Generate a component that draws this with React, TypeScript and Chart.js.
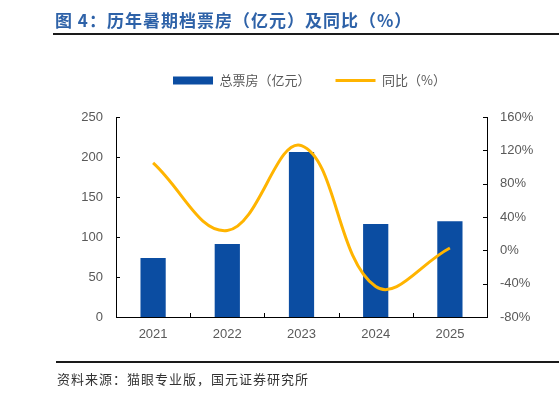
import React, { useEffect, useRef } from "react";
import { Chart, registerables } from "chart.js";

Chart.register(...registerables);

const categories = ["2021", "2022", "2023", "2024", "2025"];
const boxOffice = [73.8, 91.4, 206.2, 116.4, 119.7];
const yoyPct = [104.9, 23.8, 125.7, -43.5, 2.8];
const leftTicks = [0, 50, 100, 150, 200, 250];
const rightTicks = [-80, -40, 0, 40, 80, 120, 160];
const seriesNames = ["总票房（亿元）", "同比（%）"];
const titleText = "图 4：历年暑期档票房（亿元）及同比（%）";
const sourceText = "资料来源：猫眼专业版，国元证券研究所";

const BAR_COLOR = "#0B4DA2";
const LINE_COLOR = "#FFB400";
const TICK_COLOR = "#595959";

const innerTicks = {
  id: "innerTicks",
  afterLayout(chart: any) {
    const lg = chart.legend;
    if (lg) {
      lg.top -= 20;
      lg.bottom -= 20;
      lg.left += 30;
      lg.right += 30;
    }
  },
  afterDraw(chart: any) {
    const ctx = chart.ctx;
    const { left, right, bottom } = chart.chartArea;
    const y = chart.scales.y;
    const y1 = chart.scales.y1;
    const x = chart.scales.x;
    ctx.save();
    ctx.strokeStyle = "#000";
    ctx.lineWidth = 1;
    ctx.beginPath();
    leftTicks.forEach((v) => {
      const py = Math.round(y.getPixelForValue(v)) + 0.5;
      ctx.moveTo(left, py);
      ctx.lineTo(left + 4, py);
    });
    rightTicks.forEach((v) => {
      const py = Math.round(y1.getPixelForValue(v)) + 0.5;
      ctx.moveTo(right, py);
      ctx.lineTo(right - 4, py);
    });
    for (let i = 1; i < categories.length; i++) {
      const px = Math.round((x.getPixelForValue(i - 1) + x.getPixelForValue(i)) / 2) + 0.5;
      ctx.moveTo(px, bottom);
      ctx.lineTo(px, bottom - 4);
    }
    ctx.stroke();
    ctx.restore();
  },
};

function ChartBox() {
  const ref = useRef<HTMLCanvasElement | null>(null);
  useEffect(() => {
    if (!ref.current) return;
    const tickFont = { family: "'Liberation Sans', Arial, sans-serif", size: 13 };
    const chart = new Chart(ref.current, {
      type: "bar",
      data: {
        labels: categories,
        datasets: [
          {
            type: "bar",
            label: seriesNames[0],
            data: boxOffice,
            backgroundColor: BAR_COLOR,
            borderWidth: 0,
            yAxisID: "y",
            categoryPercentage: 1,
            barPercentage: 0.34,
            pointStyle: "rect",
            order: 2,
          } as any,
          {
            type: "line",
            label: seriesNames[1],
            data: yoyPct,
            borderColor: LINE_COLOR,
            backgroundColor: LINE_COLOR,
            borderWidth: 3,
            pointRadius: 0,
            pointStyle: "line",
            tension: 0.4,
            yAxisID: "y1",
            order: 1,
          } as any,
        ],
      },
      options: {
        responsive: true,
        maintainAspectRatio: false,
        animation: false,
        layout: { padding: { top: 69, left: 0, right: 0, bottom: 0 } },
        plugins: {
          tooltip: { enabled: false },
          legend: {
            position: "top",
            labels: {
              usePointStyle: true,
              pointStyleWidth: 40,
              boxHeight: 8,
              padding: 25,
              color: TICK_COLOR,
              font: { family: "'Noto Sans CJK SC', sans-serif", size: 13 },
              sort: (a: any, b: any) => a.datasetIndex - b.datasetIndex,
            },
          },
        },
        scales: {
          x: {
            offset: true,
            grid: { display: false, drawTicks: false, offset: true },
            border: { display: true, color: "#000", width: 1 },
            ticks: { color: TICK_COLOR, font: tickFont, padding: 10, maxRotation: 0 },
            afterFit: (s: any) => {
              s.height = 80;
            },
          },
          y: {
            position: "left",
            min: 0,
            max: 250,
            grid: { display: false, drawTicks: false },
            border: { display: true, color: "#000", width: 1 },
            ticks: { stepSize: 50, color: TICK_COLOR, font: tickFont, padding: 13 },
            afterFit: (s: any) => {
              s.width = 116;
            },
          },
          y1: {
            position: "right",
            min: -80,
            max: 160,
            grid: { display: false, drawTicks: false },
            border: { display: true, color: "#000", width: 1 },
            ticks: {
              stepSize: 40,
              color: TICK_COLOR,
              font: tickFont,
              padding: 13,
              callback: (v: any) => `${v}%`,
            },
            afterFit: (s: any) => {
              s.width = 72;
            },
          },
        },
      },
      plugins: [innerTicks],
    } as any);
    return () => chart.destroy();
  }, []);
  return (
    <div style={{ position: "absolute", left: 0, top: 0, width: 559, height: 397 }}>
      <canvas ref={ref} />
    </div>
  );
}

export default function App() {
  return (
    <div>
      <ChartBox />
      <div
        style={{
          position: "absolute",
          left: 55,
          top: 10,
          fontFamily: "'Noto Sans CJK SC', sans-serif",
          fontWeight: 700,
          fontSize: 17,
          lineHeight: "19px",
          letterSpacing: "1px",
          color: "#2E62A8",
          whiteSpace: "nowrap",
        }}
      >
        {titleText}
      </div>
      <div style={{ position: "absolute", left: 53, top: 33, width: 506, height: 2, background: "#1a1a1a" }} />
      <div style={{ position: "absolute", left: 56, top: 361, width: 503, height: 2, background: "#1a1a1a" }} />
      <div
        style={{
          position: "absolute",
          left: 57,
          top: 371,
          fontFamily: "'Noto Sans CJK SC', sans-serif",
          fontSize: 13,
          lineHeight: "15px",
          letterSpacing: "1px",
          color: "#333",
          whiteSpace: "nowrap",
        }}
      >
        {sourceText}
      </div>
    </div>
  );
}
